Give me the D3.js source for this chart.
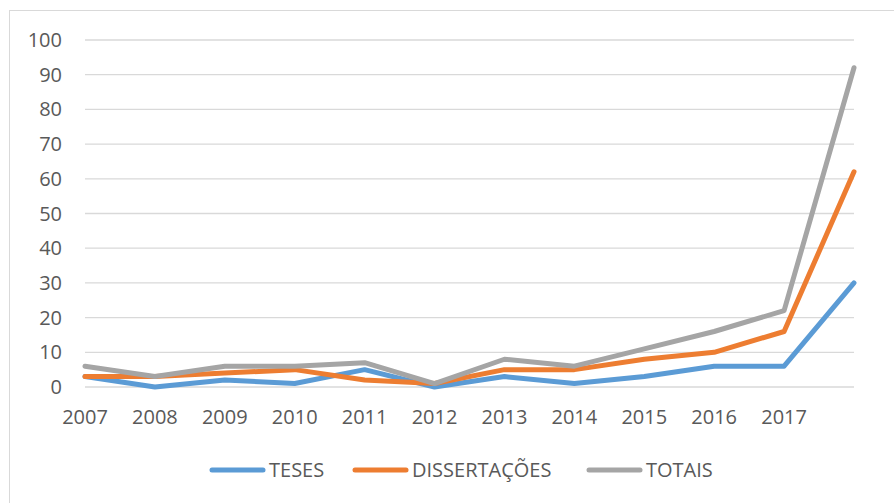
<!DOCTYPE html>
<html>
<head>
<meta charset="utf-8">
<script src="https://cdn.jsdelivr.net/npm/d3@7"></script>
<style>
  body { margin: 0; background: #fff; }
  svg { display: block; font-family: "Open Sans", sans-serif; }
</style>
</head>
<body>
<svg id="chart" width="894" height="503"></svg>
<script>
// years on the x axis, the last point has no label
var years = ["2007", "2008", "2009", "2010", "2011", "2012", "2013", "2014", "2015", "2016", "2017", ""];
var teses = [3, 0, 2, 1, 5, 0, 3, 1, 3, 6, 6, 30];
var dissertacoes = [3, 3, 4, 5, 2, 1, 5, 5, 8, 10, 16, 62];
var totais = [6, 3, 6, 6, 7, 1, 8, 6, 11, 16, 22, 92];
var yTicks = [0, 10, 20, 30, 40, 50, 60, 70, 80, 90, 100];

var series = [
  { name: "TESES", values: teses, color: "#5B9BD5" },
  { name: "DISSERTAÇÕES", values: dissertacoes, color: "#ED7D31" },
  { name: "TOTAIS", values: totais, color: "#A5A5A5" }
];

var svg = d3.select("#chart");
var plotLeft = 85, plotRight = 854, plotTop = 40, plotBottom = 387;

// outer chart frame
svg.append("rect")
  .attr("x", 9.5).attr("y", 10.5)
  .attr("width", 900).attr("height", 520)
  .attr("fill", "none")
  .attr("stroke", "#d9d9d9")
  .attr("stroke-width", 1);

var x = d3.scalePoint().domain(d3.range(years.length)).range([plotLeft, plotRight]).padding(0);
var y = d3.scaleLinear().domain([0, 100]).range([plotBottom, plotTop]);

// grid lines
svg.append("g")
  .selectAll("line")
  .data(yTicks).enter()
  .append("line")
  .attr("x1", plotLeft).attr("x2", plotRight)
  .attr("y1", d => y(d)).attr("y2", d => y(d))
  .attr("stroke", "#d9d9d9")
  .attr("stroke-width", 1.3);

// y labels
svg.append("g")
  .selectAll("text")
  .data(yTicks).enter()
  .append("text")
  .attr("x", 62)
  .attr("y", d => y(d))
  .attr("dy", "0.35em")
  .attr("text-anchor", "end")
  .attr("fill", "#595959")
  .style("font-size", "20px")
  .text(d => d);

// x labels
svg.append("g")
  .selectAll("text")
  .data(years).enter()
  .append("text")
  .attr("x", (d, i) => x(i))
  .attr("y", 417)
  .attr("dy", "0.35em")
  .attr("text-anchor", "middle")
  .attr("fill", "#595959")
  .style("font-size", "20px")
  .text(d => d);

var line = d3.line()
  .x((d, i) => x(i))
  .y(d => y(d));

svg.append("g")
  .selectAll("path")
  .data(series).enter()
  .append("path")
  .attr("d", d => line(d.values))
  .attr("fill", "none")
  .attr("stroke", d => d.color)
  .attr("stroke-width", 5)
  .attr("stroke-linejoin", "round")
  .attr("stroke-linecap", "round");

// legend
var legendX = [210, 353, 587];
var legend = svg.append("g")
  .selectAll("g")
  .data(series).enter()
  .append("g")
  .attr("transform", (d, i) => "translate(" + legendX[i] + ",470)");

legend.append("line")
  .attr("x1", 2).attr("x2", 53)
  .attr("stroke", d => d.color)
  .attr("stroke-width", 5)
  .attr("stroke-linecap", "round");

legend.append("text")
  .attr("x", 59)
  .attr("dy", "0.35em")
  .attr("fill", "#595959")
  .style("font-size", "20px")
  .text(d => d.name);
</script>
</body>
</html>
